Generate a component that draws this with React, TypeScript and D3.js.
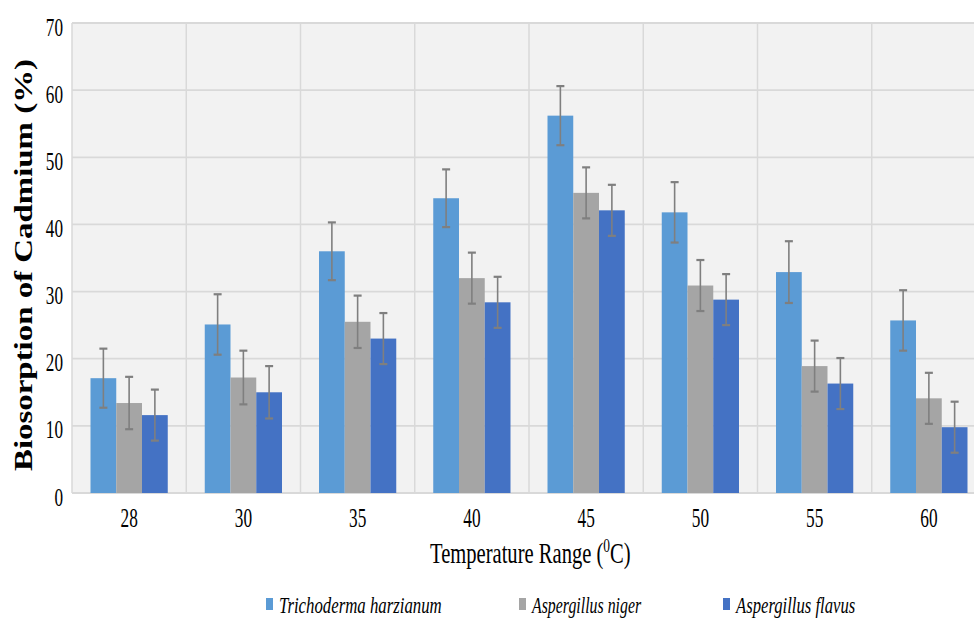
import React from "react";
import * as d3 from "d3";

const categories = ["28", "30", "35", "40", "45", "50", "55", "60"];
const seriesNames = ["Trichoderma harzianum", "Aspergillus niger", "Aspergillus flavus"];
const trichoderma = [17.1, 25.1, 36.0, 43.9, 56.2, 41.8, 32.9, 25.7];
const niger = [13.4, 17.2, 25.5, 32.0, 44.7, 30.9, 18.9, 14.1];
const flavus = [11.6, 15.0, 23.0, 28.4, 42.1, 28.8, 16.3, 9.8];
const trichodermaErr = [4.4, 4.5, 4.3, 4.3, 4.4, 4.5, 4.6, 4.5];
const nigerErr = [3.9, 4.0, 3.9, 3.8, 3.8, 3.8, 3.8, 3.8];
const flavusErr = [3.8, 3.9, 3.8, 3.8, 3.8, 3.8, 3.8, 3.8];
const yTicks = [0, 10, 20, 30, 40, 50, 60, 70];
const colors = ["#5b9bd5", "#a5a5a5", "#4472c4"];

const seriesValues = [trichoderma, niger, flavus];
const seriesErrs = [trichodermaErr, nigerErr, flavusErr];

export default function App() {
  const W = 974, H = 621;
  const left = 72, right = 986, top = 23, bottom = 493;
  const x = d3.scaleBand<string>().domain(categories).range([left, right]).padding(0);
  const bw = x.bandwidth();
  const x1 = d3.scaleBand<string>().domain(seriesNames).range([18.5, bw - 18.5]).padding(0);
  const y = d3.scaleLinear().domain([0, 70]).range([bottom, top]);
  const font = "'Liberation Serif', 'Times New Roman', serif";
  const legendX = [266, 519, 723];
  const legendScale = [0.73, 0.69, 0.725];

  return (
    <svg width={W} height={H} style={{ position: "absolute", left: 0, top: 0, background: "#fff" }}>
      <rect x={left} y={top} width={right - left} height={bottom - top} fill="#f2f2f2" />
      {yTicks.map((t) => (
        <line key={"h" + t} x1={left} x2={right} y1={y(t)} y2={y(t)} stroke="#d9d9d9" strokeWidth={1.8} />
      ))}
      {categories.map((c) => (
        <line key={"v" + c} x1={x(c)!} x2={x(c)!} y1={top} y2={bottom} stroke="#d9d9d9" strokeWidth={1.5} />
      ))}
      {seriesValues.map((vals, si) =>
        vals.map((v, ci) => (
          <rect key={`b${si}-${ci}`} x={x(categories[ci])! + x1(seriesNames[si])!} y={y(v)}
            width={x1.bandwidth()} height={y(0) - y(v)} fill={colors[si]} />
        ))
      )}
      {seriesValues.map((vals, si) =>
        vals.map((v, ci) => {
          const cx = x(categories[ci])! + x1(seriesNames[si])! + x1.bandwidth() / 2;
          const e = seriesErrs[si][ci];
          return (
            <g key={`e${si}-${ci}`} stroke="#7f7f7f" strokeWidth={1.6}>
              <line x1={cx} x2={cx} y1={y(v + e)} y2={y(v - e)} />
              <line x1={cx - 4} x2={cx + 4} y1={y(v + e)} y2={y(v + e)} strokeWidth={2.2} />
              <line x1={cx - 4} x2={cx + 4} y1={y(v - e)} y2={y(v - e)} strokeWidth={2.2} />
            </g>
          );
        })
      )}
      {yTicks.map((t) => (
        <text key={"yt" + t} transform={`translate(63,${y(t) + 12.5}) scale(0.66,1)`} textAnchor="end"
          style={{ fontFamily: font }} fontSize={26} fill="#000">{t}</text>
      ))}
      {categories.map((c) => (
        <text key={"xt" + c} transform={`translate(${x(c)! + bw / 2},${527}) scale(0.64,1)`} textAnchor="middle"
          style={{ fontFamily: font }} fontSize={27} fill="#000">{c}</text>
      ))}
      <text transform="translate(32,265) rotate(-90)" textAnchor="middle" style={{ fontFamily: font }} fontSize={26}
        fontWeight="bold" textLength={412} lengthAdjust="spacingAndGlyphs" fill="#000">Biosorption of Cadmium  (%)</text>
      <text transform="translate(430,563) scale(0.71,1)" style={{ fontFamily: font }} fontSize={29} fill="#000">
        Temperature Range (<tspan dy={-11} fontSize={19}>0</tspan><tspan dy={11}>C)</tspan>
      </text>
      {seriesNames.map((s, i) => (
        <g key={"lg" + i}>
          <rect x={legendX[i]} y={598} width={7} height={12} fill={colors[i]} />
          <text transform={`translate(${legendX[i] + 13},${613}) scale(${legendScale[i]},1)`}
            style={{ fontFamily: font }} fontSize={23} fontStyle="italic" fill="#000">{s}</text>
        </g>
      ))}
    </svg>
  );
}
